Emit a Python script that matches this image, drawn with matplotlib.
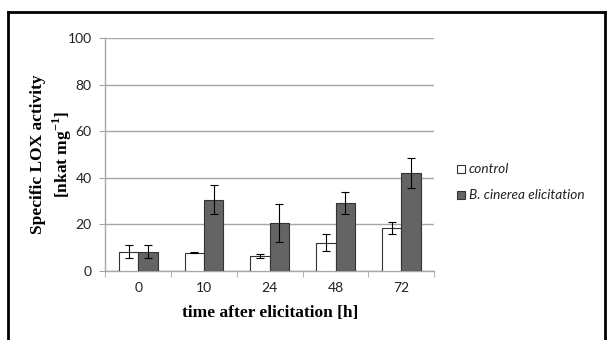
import matplotlib
matplotlib.use("Agg")
import matplotlib.pyplot as plt
import numpy as np
from matplotlib.lines import Line2D
from matplotlib.patches import Rectangle

categories = ["0", "10", "24", "48", "72"]
control = [8.2, 7.8, 6.4, 12.0, 18.5]
control_err = [2.7, 0.3, 1.0, 3.7, 2.6]
elicit = [8.2, 30.6, 20.5, 29.1, 42.1]
elicit_err = [2.7, 6.1, 8.0, 4.8, 6.5]
series_names = ["control", "B. cinerea elicitation"]

fig = plt.figure(figsize=(6.08, 3.4), dpi=100)
ax = fig.add_axes([0.1735, 0.2038, 0.5405, 0.6836])

x = np.arange(len(categories))
w = 0.295
grid_c = "#a6a6a6"
ebkw = dict(ecolor="black", elinewidth=0.8, capsize=3, capthick=0.8)
b1 = ax.bar(x - w/2, control, w, yerr=control_err, color="white",
            edgecolor="#333333", linewidth=0.8, error_kw=ebkw, zorder=3)
b2 = ax.bar(x + w/2, elicit, w, yerr=elicit_err, color="#646464",
            edgecolor="#333333", linewidth=0.8, error_kw=ebkw, zorder=3)

ax.set_xlim(-0.5, len(categories) - 0.5)
ax.set_ylim(0, 100)
ax.set_yticks(np.arange(0, 101, 20))
ax.yaxis.grid(True, color=grid_c, linewidth=1.0, zorder=0)
ax.set_axisbelow(True)
for s in ["top", "right"]:
    ax.spines[s].set_visible(False)
for s in ["left", "bottom"]:
    ax.spines[s].set_color(grid_c)
    ax.spines[s].set_linewidth(1.0)

ax.set_xticks(x)
ax.set_xticklabels(categories)
ax.set_xticks(np.arange(-0.5, len(categories) + 0.5, 1), minor=True)
ax.tick_params(axis="x", which="major", length=0, pad=8)
ax.tick_params(axis="x", which="minor", length=4, color=grid_c, direction="out")
ax.tick_params(axis="y", length=4, color=grid_c, pad=6)
for lab in ax.get_xticklabels() + ax.get_yticklabels():
    lab.set_fontfamily("Lato")
    lab.set_fontsize(10)
    lab.set_color("#222222")

ax.set_xlabel("time after elicitation [h]", fontfamily="Liberation Serif",
              fontweight="bold", fontsize=12.5, labelpad=8)
fig.text(52/608, 1 - 154/340,
         "Specific LOX activity\n[nkat mg$^{\\mathregular{-1}}$]",
         fontfamily="Liberation Serif", fontweight="bold", fontsize=12.5,
         rotation=90, ha="center", va="center", linespacing=1.3,
         multialignment="center")

# legend
leg_items = [(series_names[0], "white"), (series_names[1], "#646464")]
for i, (name, col) in enumerate(leg_items):
    yc = 1 - (169 + i * 26) / 340
    fig.patches.append(Rectangle((457/608, yc - 4/340), 8/608, 8/340,
                                 transform=fig.transFigure, facecolor=col,
                                 edgecolor="#333333", linewidth=0.8))
    fig.text(469/608, yc, name, fontfamily="Lato", fontstyle="italic",
             fontsize=9.8, va="center", ha="left", color="#222222")

# outer frame
lw = 2.0
fig.add_artist(Line2D([8/608, 8/608], [0, 1 - 12/340], color="black", linewidth=lw,
                      transform=fig.transFigure))
fig.add_artist(Line2D([8/608, 605/608], [1 - 12/340, 1 - 12/340], color="black",
                      linewidth=lw, transform=fig.transFigure))
fig.add_artist(Line2D([605/608, 605/608], [0, 1 - 12/340], color="black", linewidth=lw,
                      transform=fig.transFigure))

fig.savefig("out.png", dpi=100)
